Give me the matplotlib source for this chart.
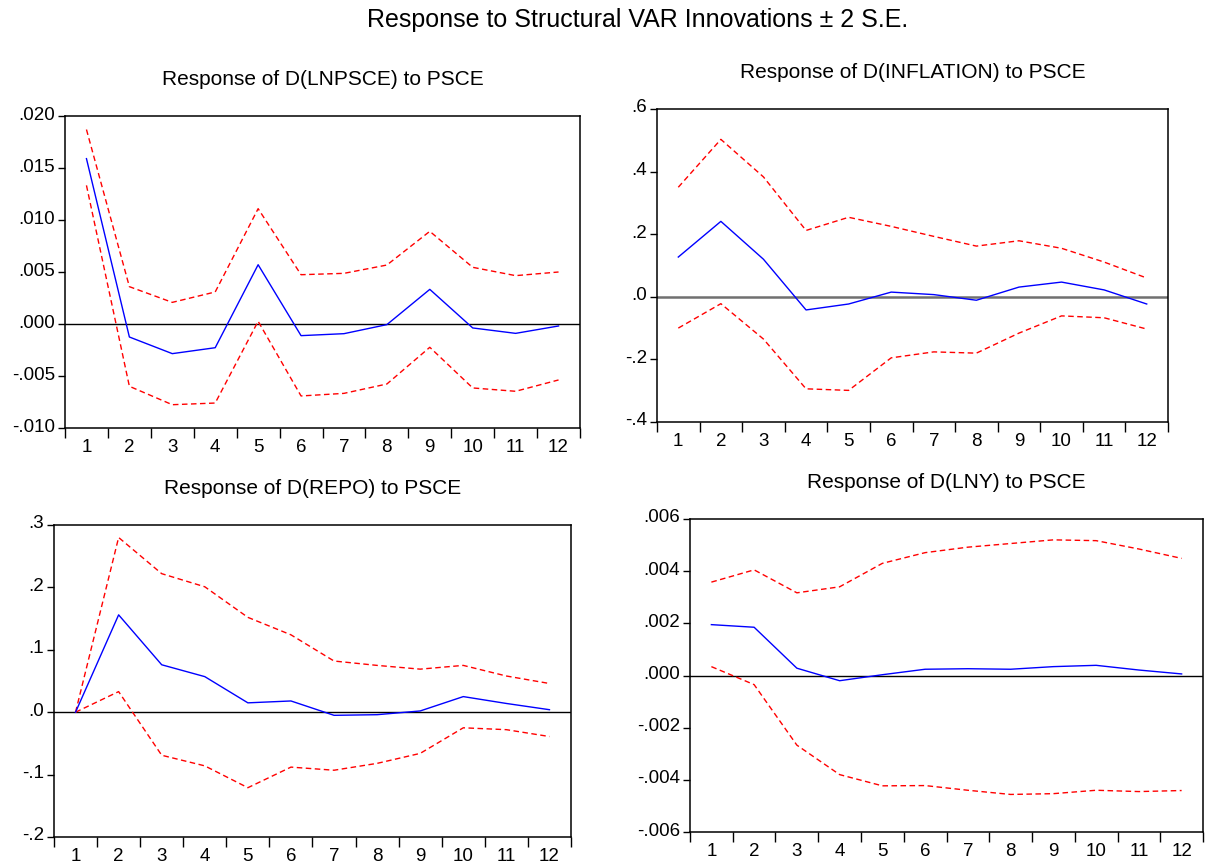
import numpy as np
import matplotlib
matplotlib.use("Agg")
import matplotlib.pyplot as plt
import matplotlib.transforms as mtransforms
from matplotlib.ticker import FuncFormatter

plt.rcParams['font.family'] = ['Liberation Sans', 'DejaVu Sans']

# === DATA ===
periods = np.arange(1, 13)

lnpsce_resp = [0.0159, -0.00125, -0.00285, -0.00228, 0.0057, -0.00112, -0.00093, -0.00006, 0.00333, -0.00038, -0.0009, -0.00019]
lnpsce_upper = [0.0187, 0.00359, 0.00208, 0.00308, 0.01109, 0.00474, 0.00487, 0.00567, 0.00891, 0.00545, 0.00465, 0.0050]
lnpsce_lower = [0.01333, -0.00599, -0.00776, -0.0076, 0.00026, -0.00692, -0.00667, -0.00577, -0.00224, -0.00615, -0.00647, -0.00538]

infl_resp = [0.127, 0.241, 0.120, -0.042, -0.023, 0.015, 0.007, -0.011, 0.031, 0.047, 0.022, -0.023]
infl_upper = [0.350, 0.503, 0.383, 0.212, 0.254, 0.225, 0.193, 0.162, 0.179, 0.155, 0.111, 0.060]
infl_lower = [-0.100, -0.022, -0.135, -0.294, -0.299, -0.195, -0.176, -0.180, -0.116, -0.061, -0.067, -0.103]

repo_resp = [0.0, 0.156, 0.076, 0.057, 0.015, 0.018, -0.005, -0.004, 0.002, 0.025, 0.014, 0.004]
repo_upper = [0.0, 0.280, 0.222, 0.201, 0.152, 0.124, 0.082, 0.075, 0.069, 0.075, 0.058, 0.046]
repo_lower = [0.0, 0.033, -0.069, -0.086, -0.121, -0.088, -0.093, -0.082, -0.066, -0.025, -0.028, -0.039]

lny_resp = [0.00195, 0.00185, 0.00028, -0.0002, 0.00003, 0.00024, 0.00026, 0.00024, 0.00034, 0.00039, 0.00021, 0.00006]
lny_upper = [0.00358, 0.00405, 0.00317, 0.0034, 0.0043, 0.00471, 0.00492, 0.00506, 0.0052, 0.00517, 0.00485, 0.00449]
lny_lower = [0.00034, -0.00035, -0.00267, -0.0038, -0.00423, -0.00422, -0.0044, -0.00456, -0.00453, -0.0044, -0.00445, -0.00441]

titles = ["Response of D(LNPSCE) to PSCE", "Response of D(INFLATION) to PSCE",
          "Response of D(REPO) to PSCE", "Response of D(LNY) to PSCE"]

# === LAYOUT (pixel boxes from the reference, 1206x867) ===
W, H = 1206, 867
boxes_px = [(65, 116, 580, 428), (657, 109, 1168, 422), (54, 525, 571, 837), (690, 519, 1203, 832)]
ylims = [(-0.010, 0.020), (-0.4, 0.6), (-0.2, 0.3), (-0.006, 0.006)]
ysteps = [0.005, 0.2, 0.1, 0.002]
ydec = [3, 1, 1, 3]
zero_colors = ["black", "#707070", "black", "black"]
zero_widths = [1.0, 1.8, 1.0, 1.0]

series = [(lnpsce_resp, lnpsce_upper, lnpsce_lower),
          (infl_resp, infl_upper, infl_lower),
          (repo_resp, repo_upper, repo_lower),
          (lny_resp, lny_upper, lny_lower)]

fig = plt.figure(figsize=(W / 100, H / 100), dpi=100)
fig.text(638 / W, 1 - 20 / H, "Response to Structural VAR Innovations \u00b1 2 S.E.",
         ha="center", va="center", fontsize=18)


def make_fmt(nd):
    def f(v, pos):
        s = f"{v:.{nd}f}"
        if s.startswith("-0"):
            s = "-" + s[2:]
        elif s.startswith("0"):
            s = s[1:]
        return s
    return f


for i, (l, t, r, b) in enumerate(boxes_px):
    ax = fig.add_axes([l / W, 1 - b / H, (r - l) / W, (b - t) / H])
    resp, upper, lower = series[i]

    ax.axhline(0, color=zero_colors[i], lw=zero_widths[i], zorder=1)
    ax.plot(periods, upper, color="red", lw=1, dashes=(4, 2.5), zorder=2)
    ax.plot(periods, lower, color="red", lw=1, dashes=(4, 2.5), zorder=2)
    ax.plot(periods, resp, color="blue", lw=1, zorder=3)

    ax.set_xlim(0.5, 12.5)
    lo, hi = ylims[i]
    ax.set_ylim(lo, hi)
    ax.set_yticks(np.arange(lo, hi + ysteps[i] / 2, ysteps[i]))
    ax.yaxis.set_major_formatter(FuncFormatter(make_fmt(ydec[i])))

    ax.set_xticks(periods)
    ax.set_xticklabels([str(p) for p in periods])
    ax.set_xticks(np.arange(0.5, 13, 1), minor=True)
    ax.tick_params(axis="x", which="major", length=0, pad=8, labelsize=13.5)
    ax.tick_params(axis="x", which="minor", length=7, width=1, direction="out")
    ax.tick_params(axis="y", which="major", length=5, width=1, direction="out", pad=2, labelsize=13.5)

    # nudge y labels up a little, as in the reference
    off = mtransforms.ScaledTranslation(0, 3 / 100, fig.dpi_scale_trans)
    for lab in ax.get_yticklabels():
        lab.set_transform(lab.get_transform() + off)

    for sp in ax.spines.values():
        sp.set_linewidth(1.1)

    ax.set_title(titles[i], fontsize=15, pad=22)

fig.savefig("out.png", dpi=100)
